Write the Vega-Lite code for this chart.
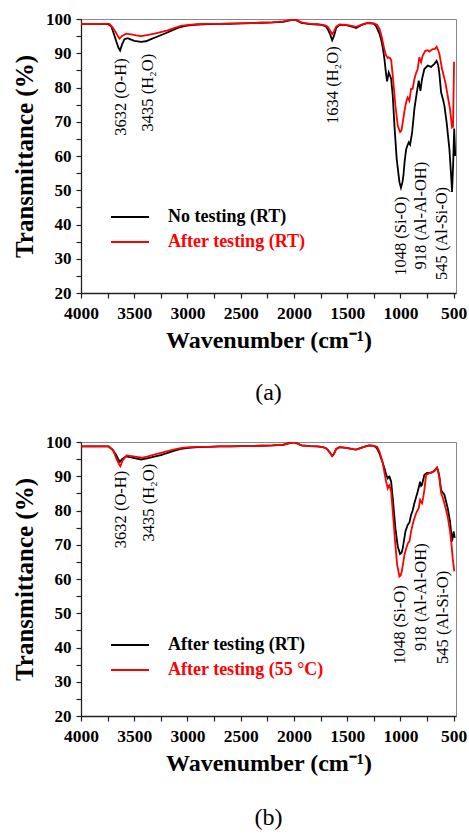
{
  "$schema": "https://vega.github.io/schema/vega-lite/v6.json",
  "background": "white",
  "padding": {"left": 12, "top": 9, "right": 0, "bottom": 2},
  "spacing": 27,
  "config": {
    "font": "Liberation Serif",
    "view": {"stroke": "#888888", "strokeWidth": 1},
    "axis": {"labelFont": "Liberation Serif", "labelFontWeight": "bold", "labelColor": "#000", "titleFont": "Liberation Serif", "titleFontWeight": "bold", "titleColor": "#000", "domainColor": "#222", "domainWidth": 1.3, "tickColor": "#222", "tickWidth": 1.2, "grid": false, "tickSize": 5},
    "axisY": {"labelOverlap": false},
    "axisX": {"labelOverlap": false},
    "legend": {"orient": "none", "legendX": 29, "legendY": 187, "symbolType": "stroke", "symbolSize": 1444, "symbolStrokeWidth": 2, "clipHeight": 22, "labelFont": "Liberation Serif", "labelFontSize": 18, "labelFontWeight": "bold", "labelOffset": 18, "rowPadding": 3, "labelLimit": 400}
  },
  "datasets": {
    "a": [
      {"s":"No testing (RT)","wn":4000,"t":98.6},{"s":"No testing (RT)","wn":3850,"t":98.6},{"s":"No testing (RT)","wn":3745,"t":98.5},{"s":"No testing (RT)","wn":3715,"t":97.8},{"s":"No testing (RT)","wn":3695,"t":96.0},{"s":"No testing (RT)","wn":3670,"t":93.6},{"s":"No testing (RT)","wn":3648,"t":91.6},{"s":"No testing (RT)","wn":3633,"t":90.8},{"s":"No testing (RT)","wn":3614,"t":92.6},{"s":"No testing (RT)","wn":3592,"t":94.1},{"s":"No testing (RT)","wn":3561,"t":94.4},{"s":"No testing (RT)","wn":3530,"t":94.0},{"s":"No testing (RT)","wn":3498,"t":93.6},{"s":"No testing (RT)","wn":3436,"t":93.3},{"s":"No testing (RT)","wn":3390,"t":93.5},{"s":"No testing (RT)","wn":3342,"t":94.1},{"s":"No testing (RT)","wn":3280,"t":94.9},{"s":"No testing (RT)","wn":3217,"t":95.7},{"s":"No testing (RT)","wn":3150,"t":96.6},{"s":"No testing (RT)","wn":3092,"t":97.4},{"s":"No testing (RT)","wn":3030,"t":97.9},{"s":"No testing (RT)","wn":2967,"t":98.2},{"s":"No testing (RT)","wn":2900,"t":98.4},{"s":"No testing (RT)","wn":2800,"t":98.5},{"s":"No testing (RT)","wn":2700,"t":98.6},{"s":"No testing (RT)","wn":2600,"t":98.6},{"s":"No testing (RT)","wn":2500,"t":98.7},{"s":"No testing (RT)","wn":2400,"t":98.8},{"s":"No testing (RT)","wn":2300,"t":98.9},{"s":"No testing (RT)","wn":2200,"t":99.0},{"s":"No testing (RT)","wn":2100,"t":99.2},{"s":"No testing (RT)","wn":2050,"t":99.5},{"s":"No testing (RT)","wn":2000,"t":99.8},{"s":"No testing (RT)","wn":1970,"t":99.5},{"s":"No testing (RT)","wn":1930,"t":98.9},{"s":"No testing (RT)","wn":1850,"t":98.5},{"s":"No testing (RT)","wn":1780,"t":98.4},{"s":"No testing (RT)","wn":1729,"t":98.2},{"s":"No testing (RT)","wn":1700,"t":97.8},{"s":"No testing (RT)","wn":1682,"t":97.0},{"s":"No testing (RT)","wn":1660,"t":95.5},{"s":"No testing (RT)","wn":1641,"t":93.8},{"s":"No testing (RT)","wn":1625,"t":95.0},{"s":"No testing (RT)","wn":1603,"t":97.4},{"s":"No testing (RT)","wn":1572,"t":98.3},{"s":"No testing (RT)","wn":1509,"t":98.2},{"s":"No testing (RT)","wn":1447,"t":97.7},{"s":"No testing (RT)","wn":1416,"t":97.4},{"s":"No testing (RT)","wn":1369,"t":98.2},{"s":"No testing (RT)","wn":1320,"t":98.7},{"s":"No testing (RT)","wn":1291,"t":98.8},{"s":"No testing (RT)","wn":1250,"t":98.6},{"s":"No testing (RT)","wn":1230,"t":98.0},{"s":"No testing (RT)","wn":1213,"t":96.8},{"s":"No testing (RT)","wn":1195,"t":95.5},{"s":"No testing (RT)","wn":1181,"t":94.0},{"s":"No testing (RT)","wn":1165,"t":91.5},{"s":"No testing (RT)","wn":1150,"t":88.3},{"s":"No testing (RT)","wn":1135,"t":84.0},{"s":"No testing (RT)","wn":1125,"t":81.8},{"s":"No testing (RT)","wn":1110,"t":84.4},{"s":"No testing (RT)","wn":1098,"t":83.5},{"s":"No testing (RT)","wn":1087,"t":82.5},{"s":"No testing (RT)","wn":1072,"t":77.6},{"s":"No testing (RT)","wn":1056,"t":68.8},{"s":"No testing (RT)","wn":1035,"t":59.1},{"s":"No testing (RT)","wn":1009,"t":52.3},{"s":"No testing (RT)","wn":995,"t":50.7},{"s":"No testing (RT)","wn":980,"t":52.5},{"s":"No testing (RT)","wn":972,"t":54.3},{"s":"No testing (RT)","wn":960,"t":58.5},{"s":"No testing (RT)","wn":946,"t":62.0},{"s":"No testing (RT)","wn":935,"t":63.0},{"s":"No testing (RT)","wn":922,"t":64.0},{"s":"No testing (RT)","wn":909,"t":63.3},{"s":"No testing (RT)","wn":890,"t":66.9},{"s":"No testing (RT)","wn":869,"t":73.7},{"s":"No testing (RT)","wn":846,"t":78.6},{"s":"No testing (RT)","wn":828,"t":82.0},{"s":"No testing (RT)","wn":812,"t":79.0},{"s":"No testing (RT)","wn":797,"t":82.5},{"s":"No testing (RT)","wn":775,"t":85.4},{"s":"No testing (RT)","wn":744,"t":86.4},{"s":"No testing (RT)","wn":712,"t":86.0},{"s":"No testing (RT)","wn":681,"t":86.9},{"s":"No testing (RT)","wn":660,"t":87.8},{"s":"No testing (RT)","wn":645,"t":86.5},{"s":"No testing (RT)","wn":634,"t":84.0},{"s":"No testing (RT)","wn":618,"t":78.6},{"s":"No testing (RT)","wn":600,"t":76.5},{"s":"No testing (RT)","wn":587,"t":74.7},{"s":"No testing (RT)","wn":566,"t":69.8},{"s":"No testing (RT)","wn":540,"t":62.0},{"s":"No testing (RT)","wn":524,"t":54.3},{"s":"No testing (RT)","wn":515,"t":49.5},{"s":"No testing (RT)","wn":505,"t":57.5},{"s":"No testing (RT)","wn":495,"t":68.0},{"s":"No testing (RT)","wn":485,"t":60.0},
      {"s":"After testing (RT)","wn":4000,"t":98.6},{"s":"After testing (RT)","wn":3850,"t":98.6},{"s":"After testing (RT)","wn":3733,"t":98.6},{"s":"After testing (RT)","wn":3702,"t":97.5},{"s":"After testing (RT)","wn":3671,"t":96.0},{"s":"After testing (RT)","wn":3650,"t":94.8},{"s":"After testing (RT)","wn":3639,"t":94.3},{"s":"After testing (RT)","wn":3617,"t":95.0},{"s":"After testing (RT)","wn":3577,"t":95.7},{"s":"After testing (RT)","wn":3530,"t":95.5},{"s":"After testing (RT)","wn":3480,"t":95.2},{"s":"After testing (RT)","wn":3436,"t":95.0},{"s":"After testing (RT)","wn":3380,"t":95.3},{"s":"After testing (RT)","wn":3311,"t":95.7},{"s":"After testing (RT)","wn":3250,"t":96.2},{"s":"After testing (RT)","wn":3186,"t":96.7},{"s":"After testing (RT)","wn":3120,"t":97.4},{"s":"After testing (RT)","wn":3061,"t":98.0},{"s":"After testing (RT)","wn":2990,"t":98.3},{"s":"After testing (RT)","wn":2935,"t":98.4},{"s":"After testing (RT)","wn":2850,"t":98.6},{"s":"After testing (RT)","wn":2700,"t":98.6},{"s":"After testing (RT)","wn":2600,"t":98.7},{"s":"After testing (RT)","wn":2500,"t":98.7},{"s":"After testing (RT)","wn":2400,"t":98.8},{"s":"After testing (RT)","wn":2300,"t":98.9},{"s":"After testing (RT)","wn":2200,"t":99.0},{"s":"After testing (RT)","wn":2100,"t":99.3},{"s":"After testing (RT)","wn":2050,"t":99.6},{"s":"After testing (RT)","wn":2000,"t":99.9},{"s":"After testing (RT)","wn":1970,"t":99.6},{"s":"After testing (RT)","wn":1930,"t":99.0},{"s":"After testing (RT)","wn":1850,"t":98.6},{"s":"After testing (RT)","wn":1780,"t":98.5},{"s":"After testing (RT)","wn":1729,"t":98.3},{"s":"After testing (RT)","wn":1700,"t":98.1},{"s":"After testing (RT)","wn":1680,"t":97.6},{"s":"After testing (RT)","wn":1660,"t":96.6},{"s":"After testing (RT)","wn":1641,"t":95.6},{"s":"After testing (RT)","wn":1625,"t":96.3},{"s":"After testing (RT)","wn":1603,"t":97.8},{"s":"After testing (RT)","wn":1572,"t":98.4},{"s":"After testing (RT)","wn":1509,"t":98.3},{"s":"After testing (RT)","wn":1447,"t":97.9},{"s":"After testing (RT)","wn":1416,"t":97.7},{"s":"After testing (RT)","wn":1369,"t":98.3},{"s":"After testing (RT)","wn":1320,"t":98.8},{"s":"After testing (RT)","wn":1291,"t":98.9},{"s":"After testing (RT)","wn":1250,"t":98.7},{"s":"After testing (RT)","wn":1220,"t":98.3},{"s":"After testing (RT)","wn":1197,"t":97.1},{"s":"After testing (RT)","wn":1180,"t":95.3},{"s":"After testing (RT)","wn":1165,"t":93.2},{"s":"After testing (RT)","wn":1150,"t":91.0},{"s":"After testing (RT)","wn":1134,"t":89.3},{"s":"After testing (RT)","wn":1118,"t":88.6},{"s":"After testing (RT)","wn":1110,"t":88.8},{"s":"After testing (RT)","wn":1098,"t":88.6},{"s":"After testing (RT)","wn":1087,"t":88.0},{"s":"After testing (RT)","wn":1072,"t":83.4},{"s":"After testing (RT)","wn":1047,"t":74.7},{"s":"After testing (RT)","wn":1025,"t":68.8},{"s":"After testing (RT)","wn":1003,"t":67.0},{"s":"After testing (RT)","wn":990,"t":67.5},{"s":"After testing (RT)","wn":978,"t":69.8},{"s":"After testing (RT)","wn":965,"t":72.5},{"s":"After testing (RT)","wn":953,"t":74.7},{"s":"After testing (RT)","wn":940,"t":76.5},{"s":"After testing (RT)","wn":932,"t":77.1},{"s":"After testing (RT)","wn":916,"t":76.1},{"s":"After testing (RT)","wn":900,"t":79.6},{"s":"After testing (RT)","wn":885,"t":79.6},{"s":"After testing (RT)","wn":869,"t":82.5},{"s":"After testing (RT)","wn":855,"t":84.0},{"s":"After testing (RT)","wn":838,"t":85.4},{"s":"After testing (RT)","wn":822,"t":88.8},{"s":"After testing (RT)","wn":806,"t":87.4},{"s":"After testing (RT)","wn":791,"t":89.3},{"s":"After testing (RT)","wn":766,"t":90.7},{"s":"After testing (RT)","wn":745,"t":90.9},{"s":"After testing (RT)","wn":728,"t":90.5},{"s":"After testing (RT)","wn":697,"t":91.2},{"s":"After testing (RT)","wn":675,"t":91.3},{"s":"After testing (RT)","wn":660,"t":91.9},{"s":"After testing (RT)","wn":645,"t":90.8},{"s":"After testing (RT)","wn":634,"t":89.8},{"s":"After testing (RT)","wn":609,"t":85.4},{"s":"After testing (RT)","wn":578,"t":81.5},{"s":"After testing (RT)","wn":556,"t":77.6},{"s":"After testing (RT)","wn":534,"t":73.7},{"s":"After testing (RT)","wn":515,"t":68.3},{"s":"After testing (RT)","wn":506,"t":68.5},{"s":"After testing (RT)","wn":500,"t":80.0},{"s":"After testing (RT)","wn":496,"t":87.5}
    ],
    "b": [
      {"s":"After testing (RT)","wn":4000,"t":98.7},{"s":"After testing (RT)","wn":3850,"t":98.7},{"s":"After testing (RT)","wn":3740,"t":98.7},{"s":"After testing (RT)","wn":3702,"t":97.7},{"s":"After testing (RT)","wn":3671,"t":96.3},{"s":"After testing (RT)","wn":3650,"t":95.0},{"s":"After testing (RT)","wn":3635,"t":94.2},{"s":"After testing (RT)","wn":3615,"t":95.0},{"s":"After testing (RT)","wn":3577,"t":95.8},{"s":"After testing (RT)","wn":3530,"t":95.5},{"s":"After testing (RT)","wn":3436,"t":94.9},{"s":"After testing (RT)","wn":3380,"t":95.2},{"s":"After testing (RT)","wn":3311,"t":95.7},{"s":"After testing (RT)","wn":3250,"t":96.2},{"s":"After testing (RT)","wn":3186,"t":96.8},{"s":"After testing (RT)","wn":3120,"t":97.5},{"s":"After testing (RT)","wn":3061,"t":98.0},{"s":"After testing (RT)","wn":2990,"t":98.3},{"s":"After testing (RT)","wn":2900,"t":98.5},{"s":"After testing (RT)","wn":2800,"t":98.6},{"s":"After testing (RT)","wn":2700,"t":98.7},{"s":"After testing (RT)","wn":2600,"t":98.7},{"s":"After testing (RT)","wn":2500,"t":98.8},{"s":"After testing (RT)","wn":2400,"t":98.8},{"s":"After testing (RT)","wn":2300,"t":98.9},{"s":"After testing (RT)","wn":2200,"t":99.0},{"s":"After testing (RT)","wn":2100,"t":99.2},{"s":"After testing (RT)","wn":2050,"t":99.6},{"s":"After testing (RT)","wn":2000,"t":99.9},{"s":"After testing (RT)","wn":1970,"t":99.6},{"s":"After testing (RT)","wn":1930,"t":99.0},{"s":"After testing (RT)","wn":1850,"t":98.8},{"s":"After testing (RT)","wn":1780,"t":98.7},{"s":"After testing (RT)","wn":1729,"t":98.5},{"s":"After testing (RT)","wn":1700,"t":98.2},{"s":"After testing (RT)","wn":1680,"t":97.6},{"s":"After testing (RT)","wn":1660,"t":96.8},{"s":"After testing (RT)","wn":1641,"t":95.9},{"s":"After testing (RT)","wn":1625,"t":96.5},{"s":"After testing (RT)","wn":1603,"t":98.0},{"s":"After testing (RT)","wn":1572,"t":98.5},{"s":"After testing (RT)","wn":1509,"t":98.3},{"s":"After testing (RT)","wn":1447,"t":97.9},{"s":"After testing (RT)","wn":1416,"t":97.8},{"s":"After testing (RT)","wn":1369,"t":98.3},{"s":"After testing (RT)","wn":1320,"t":98.8},{"s":"After testing (RT)","wn":1291,"t":99.0},{"s":"After testing (RT)","wn":1250,"t":98.9},{"s":"After testing (RT)","wn":1230,"t":98.5},{"s":"After testing (RT)","wn":1213,"t":97.7},{"s":"After testing (RT)","wn":1195,"t":96.5},{"s":"After testing (RT)","wn":1181,"t":95.2},{"s":"After testing (RT)","wn":1165,"t":93.8},{"s":"After testing (RT)","wn":1150,"t":92.3},{"s":"After testing (RT)","wn":1134,"t":90.5},{"s":"After testing (RT)","wn":1119,"t":89.4},{"s":"After testing (RT)","wn":1110,"t":89.8},{"s":"After testing (RT)","wn":1103,"t":89.9},{"s":"After testing (RT)","wn":1087,"t":88.4},{"s":"After testing (RT)","wn":1072,"t":83.6},{"s":"After testing (RT)","wn":1047,"t":74.8},{"s":"After testing (RT)","wn":1025,"t":69.5},{"s":"After testing (RT)","wn":1003,"t":67.3},{"s":"After testing (RT)","wn":990,"t":67.6},{"s":"After testing (RT)","wn":978,"t":69.0},{"s":"After testing (RT)","wn":965,"t":71.5},{"s":"After testing (RT)","wn":953,"t":73.9},{"s":"After testing (RT)","wn":932,"t":75.8},{"s":"After testing (RT)","wn":915,"t":76.5},{"s":"After testing (RT)","wn":900,"t":78.7},{"s":"After testing (RT)","wn":885,"t":80.0},{"s":"After testing (RT)","wn":869,"t":82.1},{"s":"After testing (RT)","wn":838,"t":85.5},{"s":"After testing (RT)","wn":815,"t":88.4},{"s":"After testing (RT)","wn":806,"t":87.2},{"s":"After testing (RT)","wn":797,"t":87.5},{"s":"After testing (RT)","wn":775,"t":90.4},{"s":"After testing (RT)","wn":750,"t":91.0},{"s":"After testing (RT)","wn":728,"t":90.9},{"s":"After testing (RT)","wn":700,"t":91.2},{"s":"After testing (RT)","wn":681,"t":91.6},{"s":"After testing (RT)","wn":656,"t":92.5},{"s":"After testing (RT)","wn":645,"t":91.5},{"s":"After testing (RT)","wn":634,"t":89.9},{"s":"After testing (RT)","wn":618,"t":86.0},{"s":"After testing (RT)","wn":600,"t":85.2},{"s":"After testing (RT)","wn":587,"t":84.6},{"s":"After testing (RT)","wn":570,"t":82.5},{"s":"After testing (RT)","wn":556,"t":80.7},{"s":"After testing (RT)","wn":534,"t":76.8},{"s":"After testing (RT)","wn":515,"t":71.0},{"s":"After testing (RT)","wn":500,"t":73.9},{"s":"After testing (RT)","wn":490,"t":72.0},
      {"s":"After testing (55 °C)","wn":4000,"t":98.7},{"s":"After testing (55 °C)","wn":3850,"t":98.7},{"s":"After testing (55 °C)","wn":3740,"t":98.7},{"s":"After testing (55 °C)","wn":3698,"t":97.6},{"s":"After testing (55 °C)","wn":3667,"t":95.1},{"s":"After testing (55 °C)","wn":3642,"t":93.5},{"s":"After testing (55 °C)","wn":3630,"t":92.9},{"s":"After testing (55 °C)","wn":3609,"t":94.6},{"s":"After testing (55 °C)","wn":3571,"t":96.1},{"s":"After testing (55 °C)","wn":3508,"t":95.8},{"s":"After testing (55 °C)","wn":3430,"t":95.4},{"s":"After testing (55 °C)","wn":3370,"t":95.8},{"s":"After testing (55 °C)","wn":3304,"t":96.4},{"s":"After testing (55 °C)","wn":3240,"t":96.9},{"s":"After testing (55 °C)","wn":3178,"t":97.4},{"s":"After testing (55 °C)","wn":3110,"t":97.9},{"s":"After testing (55 °C)","wn":3053,"t":98.3},{"s":"After testing (55 °C)","wn":2980,"t":98.5},{"s":"After testing (55 °C)","wn":2900,"t":98.6},{"s":"After testing (55 °C)","wn":2800,"t":98.6},{"s":"After testing (55 °C)","wn":2700,"t":98.7},{"s":"After testing (55 °C)","wn":2600,"t":98.7},{"s":"After testing (55 °C)","wn":2500,"t":98.8},{"s":"After testing (55 °C)","wn":2400,"t":98.8},{"s":"After testing (55 °C)","wn":2300,"t":98.9},{"s":"After testing (55 °C)","wn":2200,"t":99.0},{"s":"After testing (55 °C)","wn":2100,"t":99.2},{"s":"After testing (55 °C)","wn":2050,"t":99.6},{"s":"After testing (55 °C)","wn":2000,"t":99.9},{"s":"After testing (55 °C)","wn":1970,"t":99.6},{"s":"After testing (55 °C)","wn":1930,"t":99.0},{"s":"After testing (55 °C)","wn":1850,"t":98.8},{"s":"After testing (55 °C)","wn":1780,"t":98.7},{"s":"After testing (55 °C)","wn":1729,"t":98.5},{"s":"After testing (55 °C)","wn":1700,"t":98.2},{"s":"After testing (55 °C)","wn":1680,"t":97.6},{"s":"After testing (55 °C)","wn":1660,"t":96.8},{"s":"After testing (55 °C)","wn":1641,"t":95.9},{"s":"After testing (55 °C)","wn":1625,"t":96.5},{"s":"After testing (55 °C)","wn":1603,"t":98.0},{"s":"After testing (55 °C)","wn":1572,"t":98.5},{"s":"After testing (55 °C)","wn":1509,"t":98.3},{"s":"After testing (55 °C)","wn":1447,"t":97.9},{"s":"After testing (55 °C)","wn":1416,"t":97.8},{"s":"After testing (55 °C)","wn":1369,"t":98.3},{"s":"After testing (55 °C)","wn":1320,"t":98.8},{"s":"After testing (55 °C)","wn":1291,"t":99.0},{"s":"After testing (55 °C)","wn":1250,"t":98.9},{"s":"After testing (55 °C)","wn":1220,"t":98.6},{"s":"After testing (55 °C)","wn":1197,"t":97.2},{"s":"After testing (55 °C)","wn":1180,"t":95.5},{"s":"After testing (55 °C)","wn":1165,"t":93.8},{"s":"After testing (55 °C)","wn":1150,"t":91.0},{"s":"After testing (55 °C)","wn":1134,"t":88.4},{"s":"After testing (55 °C)","wn":1119,"t":86.5},{"s":"After testing (55 °C)","wn":1110,"t":87.2},{"s":"After testing (55 °C)","wn":1103,"t":87.4},{"s":"After testing (55 °C)","wn":1087,"t":85.5},{"s":"After testing (55 °C)","wn":1072,"t":79.7},{"s":"After testing (55 °C)","wn":1050,"t":71.0},{"s":"After testing (55 °C)","wn":1031,"t":64.2},{"s":"After testing (55 °C)","wn":1009,"t":60.7},{"s":"After testing (55 °C)","wn":998,"t":61.0},{"s":"After testing (55 °C)","wn":987,"t":62.2},{"s":"After testing (55 °C)","wn":975,"t":64.5},{"s":"After testing (55 °C)","wn":962,"t":67.1},{"s":"After testing (55 °C)","wn":940,"t":69.5},{"s":"After testing (55 °C)","wn":928,"t":70.5},{"s":"After testing (55 °C)","wn":915,"t":71.0},{"s":"After testing (55 °C)","wn":900,"t":73.9},{"s":"After testing (55 °C)","wn":878,"t":76.8},{"s":"After testing (55 °C)","wn":853,"t":79.2},{"s":"After testing (55 °C)","wn":828,"t":80.7},{"s":"After testing (55 °C)","wn":815,"t":83.1},{"s":"After testing (55 °C)","wn":806,"t":82.5},{"s":"After testing (55 °C)","wn":797,"t":82.1},{"s":"After testing (55 °C)","wn":785,"t":84.0},{"s":"After testing (55 °C)","wn":775,"t":86.0},{"s":"After testing (55 °C)","wn":759,"t":90.4},{"s":"After testing (55 °C)","wn":728,"t":90.9},{"s":"After testing (55 °C)","wn":700,"t":91.2},{"s":"After testing (55 °C)","wn":681,"t":91.6},{"s":"After testing (55 °C)","wn":656,"t":92.5},{"s":"After testing (55 °C)","wn":645,"t":91.2},{"s":"After testing (55 °C)","wn":634,"t":89.5},{"s":"After testing (55 °C)","wn":618,"t":85.1},{"s":"After testing (55 °C)","wn":600,"t":83.5},{"s":"After testing (55 °C)","wn":587,"t":82.1},{"s":"After testing (55 °C)","wn":570,"t":80.0},{"s":"After testing (55 °C)","wn":556,"t":78.2},{"s":"After testing (55 °C)","wn":534,"t":73.9},{"s":"After testing (55 °C)","wn":520,"t":70.0},{"s":"After testing (55 °C)","wn":509,"t":66.1},{"s":"After testing (55 °C)","wn":494,"t":62.2}
    ],
    "annA": [
      {"label":"3632 (O-H)","wn":3625,"t":77.2},
      {"label":"3435 (H₂O)","wn":3370,"t":78.5},
      {"label":"1634 (H₂O)","wn":1635,"t":80.7},
      {"label":"1048 (Si-O)","wn":993,"t":36.6},
      {"label":"918 (Al-Al-OH)","wn":806,"t":42.6},
      {"label":"545 (Al-Si-O)","wn":609,"t":37.4}
    ],
    "annB": [
      {"label":"3632 (O-H)","wn":3629,"t":80.3},
      {"label":"3435 (H₂O)","wn":3364,"t":82.3},
      {"label":"1048 (Si-O)","wn":1003,"t":46.6},
      {"label":"918 (Al-Al-OH)","wn":809,"t":54.7},
      {"label":"545 (Al-Si-O)","wn":602,"t":48.8}
    ]
  },
  "vconcat": [
    {
      "width": 375,
      "height": 274,
      "title": {"text": "(a)", "orient": "bottom", "anchor": "middle", "offset": 28, "font": "Liberation Serif", "fontSize": 24, "fontWeight": "normal", "color": "#000"},
      "encoding": {
        "x": {"field": "wn", "type": "quantitative", "title": "Wavenumber (cm⁻¹)",
          "scale": {"domain": [478, 4000], "reverse": true, "nice": false, "zero": false},
          "axis": {"values": [500,750,1000,1250,1500,1750,2000,2250,2500,2750,3000,3250,3500,3750,4000], "format": "d", "labelExpr": "datum.value % 500 == 0 ? datum.label : ''", "labelFontSize": 17.5, "labelPadding": 6, "titleFontSize": 24, "titlePadding": 7, "labelFlush": false, "labelOverlap": false, "labelBound": false}},
        "y": {"field": "t", "type": "quantitative", "title": "Transmittance (%)",
          "scale": {"domain": [20, 100], "nice": false, "zero": false},
          "axis": {"values": [20,25,30,35,40,45,50,55,60,65,70,75,80,85,90,95,100], "format": "d", "labelExpr": "datum.value % 10 == 0 ? datum.label : ''", "labelFontSize": 17, "labelPadding": 5, "labelOverlap": false, "titleFontSize": 25, "titlePadding": 8}}
      },
      "layer": [
        {
          "data": {"name": "a"},
          "mark": {"type": "line", "strokeWidth": 1.8, "clip": true},
          "encoding": {
            "color": {"field": "s", "type": "nominal",
              "scale": {"domain": ["No testing (RT)", "After testing (RT)"], "range": ["#000000", "#ff0000"]},
              "legend": {"title": null, "encode": {"labels": {"update": {"fill": {"signal": "datum.value == 'No testing (RT)' ? '#000000' : '#ff0000'"}}}}}}
          }
        },
        {
          "data": {"name": "annA"},
          "mark": {"type": "text", "angle": 270, "align": "center", "baseline": "middle", "font": "Liberation Serif", "fontSize": 16.5, "color": "#000"},
          "encoding": {
            "text": {"field": "label"}
          }
        }
      ]
    },
    {
      "width": 375,
      "height": 274,
      "title": {"text": "(b)", "orient": "bottom", "anchor": "middle", "offset": 30, "font": "Liberation Serif", "fontSize": 24, "fontWeight": "normal", "color": "#000"},
      "encoding": {
        "x": {"field": "wn", "type": "quantitative", "title": "Wavenumber (cm⁻¹)",
          "scale": {"domain": [478, 4000], "reverse": true, "nice": false, "zero": false},
          "axis": {"values": [500,750,1000,1250,1500,1750,2000,2250,2500,2750,3000,3250,3500,3750,4000], "format": "d", "labelExpr": "datum.value % 500 == 0 ? datum.label : ''", "labelFontSize": 17.5, "labelPadding": 6, "titleFontSize": 24, "titlePadding": 7, "labelFlush": false, "labelOverlap": false, "labelBound": false}},
        "y": {"field": "t", "type": "quantitative", "title": "Transmittance (%)",
          "scale": {"domain": [20, 100], "nice": false, "zero": false},
          "axis": {"values": [20,25,30,35,40,45,50,55,60,65,70,75,80,85,90,95,100], "format": "d", "labelExpr": "datum.value % 10 == 0 ? datum.label : ''", "labelFontSize": 17, "labelPadding": 5, "labelOverlap": false, "titleFontSize": 25, "titlePadding": 8}}
      },
      "layer": [
        {
          "data": {"name": "b"},
          "mark": {"type": "line", "strokeWidth": 1.8, "clip": true},
          "encoding": {
            "color": {"field": "s", "type": "nominal",
              "scale": {"domain": ["After testing (RT)", "After testing (55 °C)"], "range": ["#000000", "#ff0000"]},
              "legend": {"title": null, "legendY": 192, "encode": {"labels": {"update": {"fill": {"signal": "datum.value == 'After testing (RT)' ? '#000000' : '#ff0000'"}}}}}}
          }
        },
        {
          "data": {"name": "annB"},
          "mark": {"type": "text", "angle": 270, "align": "center", "baseline": "middle", "font": "Liberation Serif", "fontSize": 16.5, "color": "#000"},
          "encoding": {
            "text": {"field": "label"}
          }
        }
      ]
    }
  ],
  "resolve": {"scale": {"color": "independent"}}
}
